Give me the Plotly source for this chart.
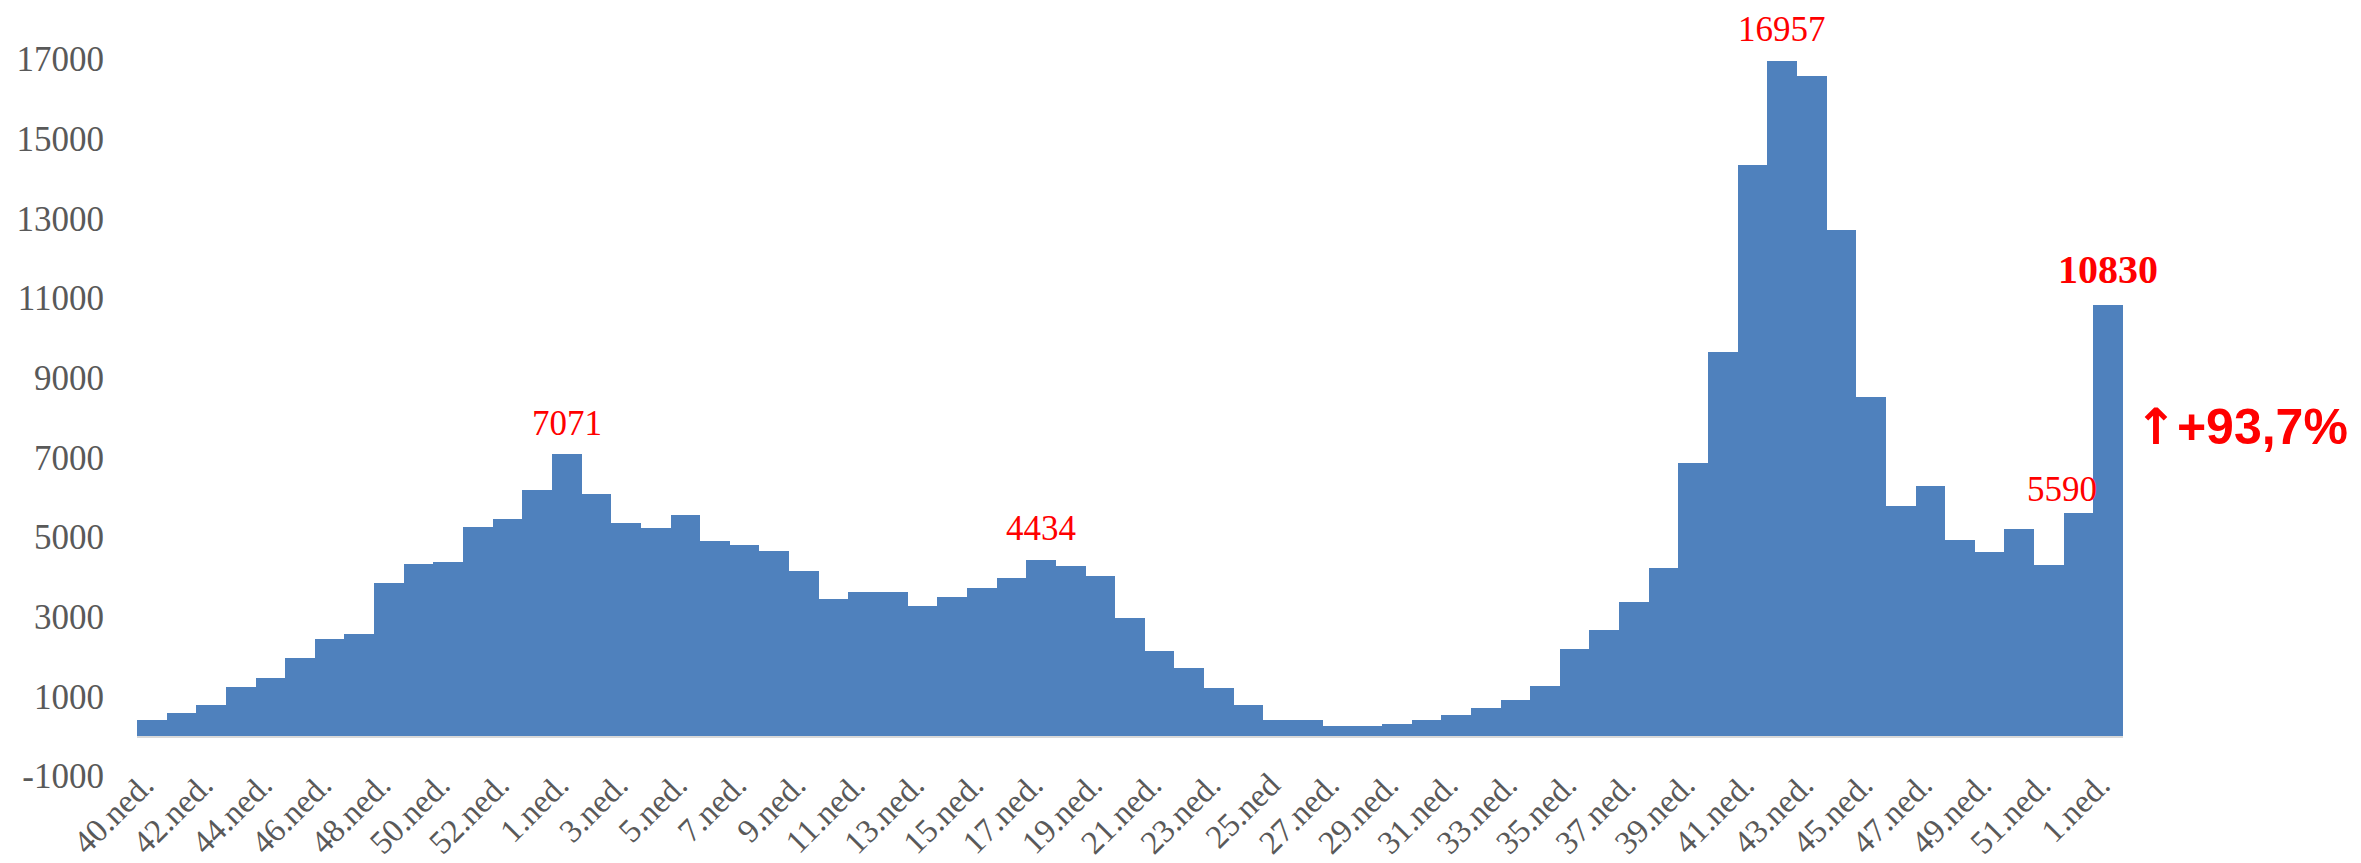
import plotly.graph_objects as go

weeks = [
    "40.ned.", "41.ned.", "42.ned.", "43.ned.", "44.ned.", "45.ned.", "46.ned.",
    "47.ned.", "48.ned.", "49.ned.", "50.ned.", "51.ned.", "52.ned.", "53.ned.",
    "1.ned.", "2.ned.", "3.ned.", "4.ned.", "5.ned.", "6.ned.", "7.ned.", "8.ned.",
    "9.ned.", "10.ned.", "11.ned.", "12.ned.", "13.ned.", "14.ned.", "15.ned.",
    "16.ned.", "17.ned.", "18.ned.", "19.ned.", "20.ned.", "21.ned.", "22.ned.",
    "23.ned.", "24.ned.", "25.ned", "26.ned.", "27.ned.", "28.ned.", "29.ned.",
    "30.ned.", "31.ned.", "32.ned.", "33.ned.", "34.ned.", "35.ned.", "36.ned.",
    "37.ned.", "38.ned.", "39.ned.", "40.ned.", "41.ned.", "42.ned.", "43.ned.",
    "44.ned.", "45.ned.", "46.ned.", "47.ned.", "48.ned.", "49.ned.", "50.ned.",
    "51.ned.", "52.ned.", "1.ned.",
]

cases = [
    410, 580, 770, 1230, 1460, 1960, 2440, 2570, 3850, 4330, 4360, 5260, 5450, 6170,
    7071, 6090, 5340, 5230, 5560, 4900, 4810, 4660, 4140, 3450, 3620, 3620, 3260,
    3490, 3720, 3980, 4434, 4280, 4020, 2960, 2150, 1710, 1220, 780, 400, 410, 260,
    250, 310, 410, 520, 710, 920, 1270, 2200, 2670, 3360, 4230, 6860, 9640, 14350,
    16957, 16570, 12700, 8520, 5780, 6290, 4920, 4620, 5190, 4290, 5590, 10830,
]

y_ticks = [-1000, 1000, 3000, 5000, 7000, 9000, 11000, 13000, 15000, 17000]

# indices of bars that carry a value label
labelled = [14, 30, 55, 65, 66]

x = list(range(len(cases)))
tick_idx = x[::2]

fig = go.Figure()
fig.add_trace(go.Bar(
    x=x, y=cases,
    marker=dict(color="#4F81BD", line=dict(width=0)),
    hoverinfo="y",
))

serif = "Liberation Serif, Times New Roman, serif"

for i in labelled:
    last = i == len(cases) - 1
    fig.add_annotation(
        x=i, y=cases[i], xref="x", yref="y",
        text=f"<b>{cases[i]}</b>" if last else str(cases[i]),
        showarrow=False, yanchor="middle",
        yshift=35 if last else (24 if i == 65 else 31),
        xshift=-17 if i == 65 else 0,
        font=dict(family=serif, size=40 if last else 35, color="#FF0000"),
    )

pct = (cases[-1] / cases[-2] - 1) * 100
pct_text = ("+" + f"{pct:.1f}" + "%").replace(".", ",")
fig.add_annotation(
    x=1.005, y=0.45, xref="paper", yref="paper",
    xanchor="left", yanchor="middle", showarrow=False,
    text=('<b><span style="font-family:DejaVu Sans">↑</span>'
          f'{pct_text}</b>'),
    font=dict(family="Liberation Sans, Arial, sans-serif", size=50, color="#FF0000"),
)

fig.update_layout(
    width=2361, height=863,
    margin=dict(l=137, r=238, t=0, b=87, autoexpand=False),
    paper_bgcolor="white", plot_bgcolor="white",
    bargap=0, showlegend=False,
    font=dict(family=serif, color="#595959"),
)
fig.update_xaxes(
    tickmode="array", tickvals=tick_idx, ticktext=[weeks[i] for i in tick_idx],
    tickangle=-45, tickfont=dict(family=serif, size=33, color="#595959"),
    range=[-0.5, len(cases) - 0.5], showgrid=False, showline=False, ticks="",
    ticklabelstandoff=-18, ticklabelshift=-8, automargin=False,
)
fig.update_yaxes(
    range=[-1000, 18480], tickmode="array", tickvals=y_ticks,
    ticktext=[str(v) for v in y_ticks],
    tickfont=dict(family=serif, size=35, color="#595959"),
    showgrid=False, showline=False, ticks="",
    zeroline=True, zerolinecolor="#D9D9D9", zerolinewidth=3,
    ticklabelstandoff=32, automargin=False,
)

fig.write_html(
    "out.html",
    config={"displayModeBar": False},
    post_script="document.body.style.margin='0';document.body.style.overflow='hidden';",
)
